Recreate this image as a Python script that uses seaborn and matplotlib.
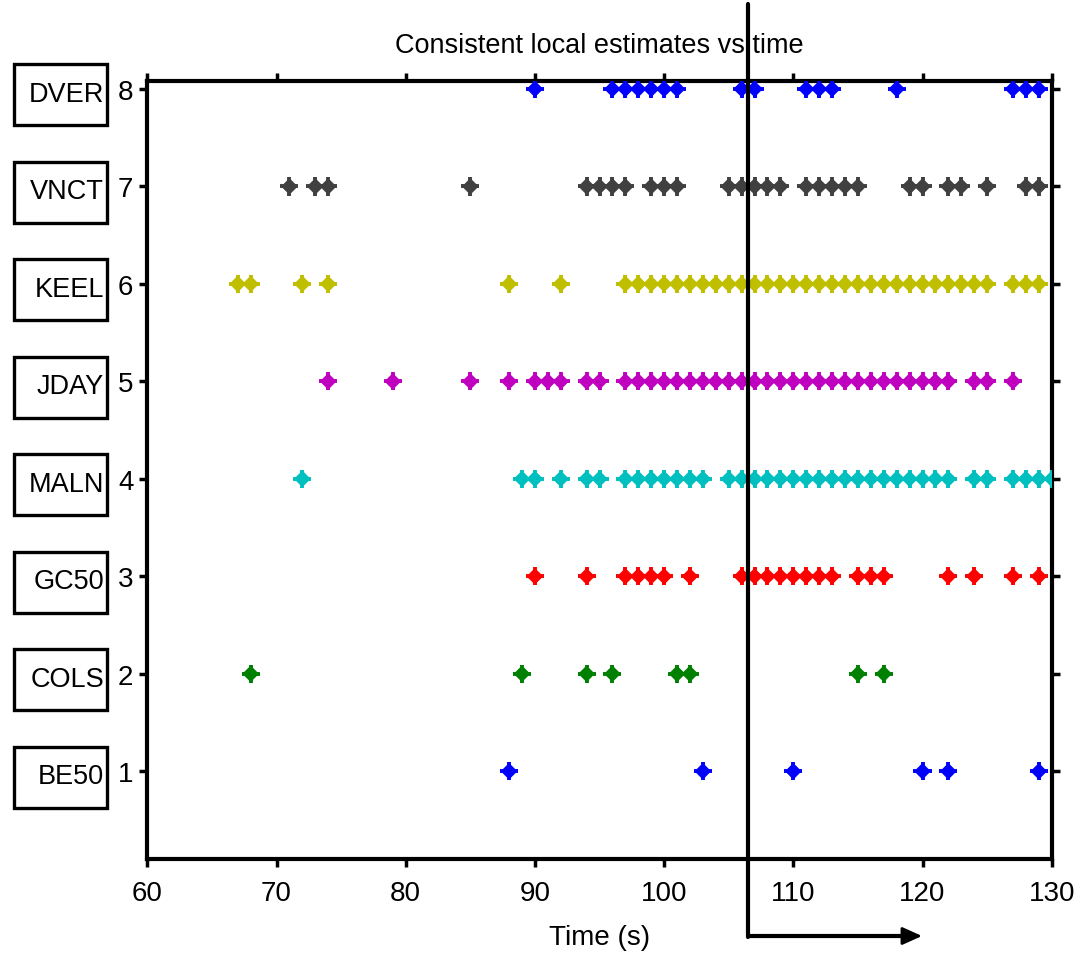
import matplotlib
matplotlib.use("Agg")
import matplotlib.pyplot as plt
import matplotlib.transforms as mtransforms
from matplotlib.lines import Line2D
from matplotlib.patches import Rectangle
import pandas as pd
import seaborn as sns

# ---------------- data ----------------
stations = ["BE50", "COLS", "GC50", "MALN", "JDAY", "KEEL", "VNCT", "DVER"]
station_rows = [1, 2, 3, 4, 5, 6, 7, 8]
station_colors = ["#0000ff", "#008000", "#ff0000", "#00bfbf",
                  "#bf00bf", "#bfbf00", "#404040", "#0000ff"]

t_be50 = [88, 103, 110, 120, 122, 129]
t_cols = [68, 89, 94, 96, 101, 102, 115, 117]
t_gc50 = [90, 94, 97, 98, 99, 100, 102, 106, 107, 108, 109, 110, 111, 112, 113,
          115, 116, 117, 122, 124, 127, 129]
t_maln = [72, 89, 90, 92, 94, 95, 97, 98, 99, 100, 101, 102, 103,
          105, 106, 107, 108, 109, 110, 111, 112, 113, 114, 115, 116, 117, 118,
          119, 120, 121, 122, 124, 125, 127, 128, 129, 130]
t_jday = [74, 79, 85, 88, 90, 91, 92, 94, 95, 97, 98, 99, 100, 101, 102, 103,
          104, 105, 106, 107, 108, 109, 110, 111, 112, 113, 114, 115, 116, 117,
          118, 119, 120, 121, 122, 124, 125, 127]
t_keel = [67, 68, 72, 74, 88, 92, 97, 98, 99, 100, 101, 102, 103, 104, 105, 106,
          107, 108, 109, 110, 111, 112, 113, 114, 115, 116, 117, 118, 119, 120,
          121, 122, 123, 124, 125, 127, 128, 129]
t_vnct = [71, 73, 74, 85, 94, 95, 96, 97, 99, 100, 101, 105, 106, 107, 108, 109,
          111, 112, 113, 114, 115, 119, 120, 122, 123, 125, 128, 129]
t_dver = [90, 96, 97, 98, 99, 100, 101, 106, 107, 111, 112, 113, 118, 127, 128, 129]

station_times = [t_be50, t_cols, t_gc50, t_maln, t_jday, t_keel, t_vnct, t_dver]

title_text = "Consistent local estimates vs time"
xlabel_text = "Time (s)"
xticks = [60, 70, 80, 90, 100, 110, 120, 130]
yticks = [1, 2, 3, 4, 5, 6, 7, 8]
marker_time = 106.5  # vertical marker line position (s)

rows = []
for name, row, times in zip(stations, station_rows, station_times):
    for t in times:
        rows.append({"time": t, "row": row, "station": name})
df = pd.DataFrame(rows)
palette = dict(zip(stations, station_colors))

# ---------------- style ----------------
sns.set_theme(style="ticks")
plt.rcParams["font.family"] = ["Liberation Sans", "DejaVu Sans"]

W, H = 1078, 954
fig = plt.figure(figsize=(W / 100, H / 100), dpi=100)
ax = fig.add_axes([147.3 / W, 1 - 860 / H, (1051.7 - 147.3) / W, (860 - 81.7) / H])

sns.scatterplot(data=df, x="time", y="row", hue="station", palette=palette,
                marker="D", s=72, linewidth=0, legend=False, ax=ax, zorder=3)
sns.scatterplot(data=df, x="time", y="row", hue="station", palette=palette,
                marker="+", s=170, linewidth=2.8, legend=False, ax=ax, zorder=3)

ax.set_xlim(60, 130)
ax.set_ylim(0.1, 8.085)
ax.set_xticks(xticks)
ax.set_yticks(yticks)
ax.set_xticklabels([str(v) for v in xticks], fontsize=20)
ax.set_yticklabels([str(v) for v in yticks], fontsize=20)
ax.tick_params(direction="out", length=6, width=2.5, top=True, right=True,
               labeltop=False, labelright=False, color="black", labelcolor="black")
ax.tick_params(axis="x", pad=9)
ax.tick_params(axis="y", pad=4)
for sp in ax.spines.values():
    sp.set_linewidth(3)
    sp.set_color("black")
    sp.set_visible(True)
ax.set_xlabel(xlabel_text, fontsize=20, labelpad=13, color="black")
ax.set_ylabel("")
ax.set_title(title_text, fontsize=19.5, pad=21, color="black")
ax.grid(False)

# station boxes to the left of the y axis
trans = mtransforms.blended_transform_factory(fig.transFigure, ax.transData)
box_h = 61 / 97.3
for name, row in zip(stations, station_rows):
    rect = Rectangle((14 / W, row - box_h / 2 - 0.06), 93 / W, box_h,
                     transform=trans, fill=False, lw=2.4, edgecolor="black",
                     clip_on=False)
    fig.add_artist(rect)
    fig.text(104 / W, row - 0.05, name, transform=trans, ha="right",
             va="center", fontsize=19.5, color="black")

# vertical marker line extending beyond the axes, with arrow
xf = 747.7 / W
fig.add_artist(Line2D([xf, xf], [1 - 5 / H, 1 - 938 / H], transform=fig.transFigure,
                      color="black", lw=3, zorder=10))
fig.add_artist(Line2D([xf, 905 / W], [1 - 937 / H, 1 - 937 / H],
                      transform=fig.transFigure, color="black", lw=3, zorder=10))
ax.annotate("", xy=(922 / W, 1 - 937 / H), xytext=(900 / W, 1 - 937 / H),
            xycoords="figure fraction", textcoords="figure fraction",
            arrowprops=dict(arrowstyle="-|>,head_length=1.0,head_width=0.45",
                            color="black", lw=2, shrinkA=0, shrinkB=0),
            annotation_clip=False)

fig.savefig("out.png", dpi=100)
